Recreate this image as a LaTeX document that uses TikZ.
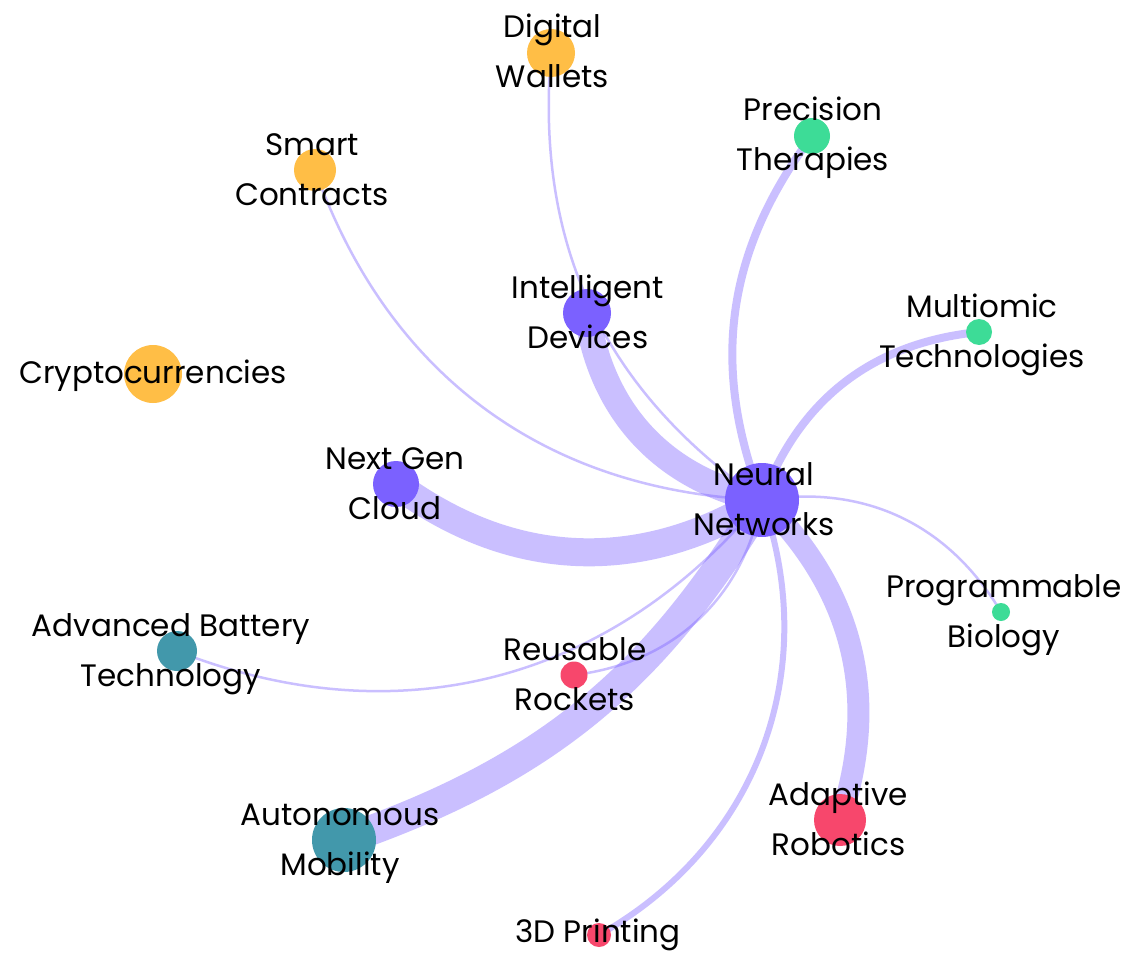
\documentclass[tikz,border=0pt]{standalone}
\usepackage{fontspec}
\setmainfont{Poppins}
\pgfdeclarelayer{bg}
\pgfsetlayers{bg,main}
\definecolor{edgecol}{HTML}{7B61FF}
\definecolor{corange}{HTML}{FFBE46}
\definecolor{cgreen}{HTML}{3DDC97}
\definecolor{cpurple}{HTML}{7B61FF}
\definecolor{cteal}{HTML}{4298AB}
\definecolor{cpink}{HTML}{F7476C}
\newcommand{\lblstrut}{\rule[-10pt]{0pt}{40pt}}
\tikzset{
  dot/.style={circle, inner sep=0pt, minimum size=#1},
  lbl/.style={inner sep=0pt, align=center, font=\fontsize{31}{50}\selectfont},
  edge/.style={draw=edgecol, draw opacity=0.4, line width=#1},
}
\begin{document}
\begin{tikzpicture}[x=1pt,y=-1pt]
\useasboundingbox (0,0) rectangle (1147,952);
% circles
\node[dot=48pt, fill=corange] (dw) at (551,53) {};
\node[dot=36pt, fill=cgreen] (pt) at (812,136) {};
\node[dot=42pt, fill=corange] (sc) at (315,170) {};
\node[dot=48pt, fill=cpurple] (id) at (587,313) {};
\node[dot=26pt, fill=cgreen] (mt) at (979,332) {};
\node[dot=58pt, fill=corange] (cr) at (153,374) {};
\node[dot=46pt, fill=cpurple] (ngc) at (396,484) {};
\node[dot=74pt, fill=cpurple] (nn) at (762,500) {};
\node[dot=18pt, fill=cgreen] (pb) at (1001,612) {};
\node[dot=40pt, fill=cteal] (abt) at (177,651) {};
\node[dot=27pt, fill=cpink] (rr) at (574,675) {};
\node[dot=52pt, fill=cpink] (ar) at (840,820) {};
\node[dot=64pt, fill=cteal] (am) at (344,840) {};
\node[dot=24pt, fill=cpink] (td) at (599,935) {};
% edges
\begin{pgfonlayer}{bg}
\fill[white] (0,0) rectangle (1147,952);
\draw[edge=2.5pt] (dw.center) to[bend right=30] (nn.center);
\draw[edge=2.5pt] (sc.center) to[bend right=34] (nn.center);
\draw[edge=26pt] (id.center) to[bend right=35] (nn.center);
\draw[edge=8pt] (pt.center) to[bend right=29] (nn.center);
\draw[edge=8pt] (mt.center) to[bend right=32] (nn.center);
\draw[edge=28pt] (ngc.center) to[bend right=34] (nn.center);
\draw[edge=2.5pt] (nn.center) to[bend left=34] (pb.center);
\draw[edge=2.5pt] (nn.center) to[bend left=36] (rr.center);
\draw[edge=2.5pt] (abt.center) to[bend right=36] (nn.center);
\draw[edge=22pt] (nn.center) to[bend left=32] (ar.center);
\draw[edge=30pt] (nn.center) to[bend left=20] (am.center);
\draw[edge=6pt] (nn.center) to[bend left=40] (td.center);
\end{pgfonlayer}
% labels
\node[lbl] (dwl) at (552.5,53) {\lblstrut Digital\\\lblstrut Wallets};
\node[lbl] (ptl) at (813,136) {\lblstrut Precision\\\lblstrut Therapies};
\node[lbl] (scl) at (312,170) {\lblstrut Smart\\\lblstrut Contracts};
\node[lbl] (idl) at (588,313) {\lblstrut Intelligent\\\lblstrut Devices};
\node[lbl] (mtl) at (982,332) {\lblstrut Multiomic\\\lblstrut Technologies};
\node[lbl] (crl) at (153,373) {\lblstrut Cryptocurrencies};
\node[lbl] (ngcl) at (395,484) {\lblstrut Next Gen\\\lblstrut Cloud};
\node[lbl] (nnl) at (764,500) {\lblstrut Neural\\\lblstrut Networks};
\node[lbl] (pbl) at (1004,612) {\lblstrut Programmable\\\lblstrut Biology};
\node[lbl] (abtl) at (171,651) {\lblstrut Advanced Battery\\\lblstrut Technology};
\node[lbl] (rrl) at (575,675) {\lblstrut Reusable\\\lblstrut Rockets};
\node[lbl] (arl) at (838.5,820) {\lblstrut Adaptive\\\lblstrut Robotics};
\node[lbl] (aml) at (340,840) {\lblstrut Autonomous\\\lblstrut Mobility};
\node[lbl] (tdl) at (598,932) {\lblstrut 3D Printing};
\end{tikzpicture}
\end{document}
